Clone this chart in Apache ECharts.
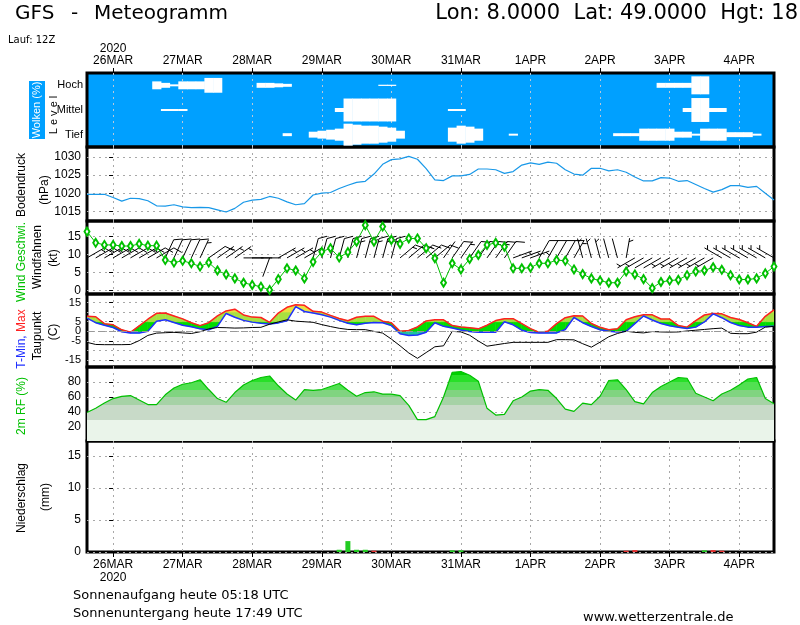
<!DOCTYPE html>
<html>
<head>
<meta charset="utf-8">
<script src="https://cdn.jsdelivr.net/npm/echarts@6.0.0/dist/echarts.min.js"></script>
<style>
html,body{margin:0;padding:0;background:#ffffff;}
#chart{width:800px;height:625px;}
</style>
</head>
<body>
<div id="chart"></div>
<script>
// ---------------- data ----------------
const hours = [-9,-6,-3,0,3,6,9,12,15,18,21,24,27,30,33,36,39,42,45,48,51,54,57,60,63,66,69,72,75,78,
  81,84,87,90,93,96,99,102,105,108,111,114,117,120,123,126,129,132,135,138,141,144,147,150,153,156,159,162,165,168,
  171,174,177,180,183,186,189,192,195,198,201,204,207,210,213,216,219,222,225,228];
const dayTicks = [0,24,48,72,96,120,144,168,192,216];
const dayLabels = ['26MAR','27MAR','28MAR','29MAR','30MAR','31MAR','1APR','2APR','3APR','4APR'];
const yearLabel = '2020';
const cloudLevels = ['Tief','Mittel','Hoch'];

const cloudHigh = [0,0,0,0,0,0,0,0,32,20, 8,32,32,32,60,60,0,0,0,0, 20,20,16,12,0,0,0,0,0,0, 0,0,0,0,5,5,0,0,0,0,
  0,0,0,0,0,0,0,0,0,0, 0,0,0,0,0,0,0,0,0,0, 0,0,0,0,0,0,20,20,20,20, 73,73,0,0,0,0,0,0,0,0];
const cloudMid = [0,0,0,0,0,0,0,0,0,8, 8,8,0,0,0,0,0,0,0,0, 0,0,0,0,0,0,0,0,0,16, 93,93,93,93,93,93,0,0,0,0,
  0,0,8,8,0,0,0,0,0,0, 0,0,0,0,0,0,0,0,0,0, 0,0,0,0,0,0,0,0,0,16, 97,97,16,16,0,0,0,0,0,0];
const cloudLow = [0,0,0,0,0,0,0,0,0,0, 0,0,0,0,0,0,0,0,0,0, 0,0,0,12,0,0,24,32,40,49, 89,81,73,73,65,57,32,0,0,0,
  0,0,57,73,65,49,0,0,0,8, 0,0,0,0,0,0,0,0,0,0, 0,12,12,12,49,49,49,49,24,24, 8,49,49,49,20,20,20,8,0,0];

const pressure = [1019.7,1019.7,1019.7,1018.8,1017.8,1018.6,1018.5,1017.9,1016.5,1016.4,
  1016.8,1016.2,1016.0,1016.1,1016.0,1015.4,1014.8,1015.8,1017.5,1018.1,
  1018.3,1019.1,1018.6,1017.6,1016.8,1017.1,1019.5,1020.0,1020.2,1021.3,
  1022.2,1023.0,1023.3,1025.3,1028.0,1029.3,1029.5,1030.2,1029.4,1026.8,
  1023.7,1023.5,1024.8,1024.8,1025.2,1026.7,1026.7,1026.5,1025.5,1026.0,
  1027.8,1028.4,1028.0,1028.6,1028.3,1026.5,1025.3,1025.0,1026.9,1026.9,
  1026.2,1026.5,1025.8,1024.5,1023.4,1023.4,1024.3,1024.2,1023.3,1023.5,
  1022.4,1021.3,1020.3,1021.0,1022.1,1022.1,1021.6,1021.9,1020.0,1018.1];

const windSpeed = [16.3,13.2,12.6,12.6,12.3,12.3,12.9,12.4,12.4,8.4,
  7.7,8.2,7.5,6.6,7.7,5.5,4.4,3.3,2.1,1.5,
  1.0,0.1,3.1,6.1,5.5,3.3,7.9,10.7,11.7,9.1,
  10.6,13.5,18.1,13.5,17.7,14.0,12.9,14.4,14.4,11.7,
  8.9,2.1,7.5,5.8,8.7,9.8,12.6,13.2,12.1,6.1,
  6.1,6.3,7.5,7.5,8.4,8.2,5.8,4.5,3.3,2.7,
  2.1,2.1,5.2,4.4,3.1,0.6,2.3,2.7,2.9,4.2,
  5.2,5.5,6.4,5.7,4.2,3.0,3.0,3.3,4.7,6.6];
const windDir = [60,60,60,60,60,60,60,60,60,25, 25,25,25,25,55,55,55,55,90,90,
  90,200,60,60,60,60,15,15,15,15, 15,15,15,15,15,15,50,50,50,50,
  50,35,35,35,35,35,35,35,35,70, 70,70,30,30,30,30,30,345,345,345,
  345,345,10,240,240,240,240,240,240,240, 240,240,240,300,300,300,300,300,300,300];

const tMax = [7.8,7.6,4.0,3.4,0.8,-0.5,2.9,6.3,9.4,9.5,
  8.0,6.5,4.5,3.0,4.5,8.0,10.6,11.5,8.5,7.4,
  7.2,4.7,9.5,12.5,13.8,13.5,10.4,10.0,8.3,6.7,
  5.5,7.3,7.8,7.8,5.3,4.5,0.0,0.5,2.3,5.4,
  6.0,6.0,3.0,2.3,1.9,1.3,3.2,5.6,6.6,6.6,
  4.0,1.4,-0.5,0.1,4.0,7.1,8.1,8.0,4.1,2.1,
  0.85,1.4,6.0,7.6,8.6,8.6,6.4,6.4,3.0,2.2,
  5.6,8.5,9.3,9.1,7.2,6.2,4.5,2.6,7.8,11.2];
const tMin = [6.9,4.5,3.2,2.0,-0.2,-0.9,-0.9,0.1,5.3,6.0,
  4.6,3.2,2.4,1.3,0.85,2.6,9.3,7.3,5.7,4.8,
  4.2,3.8,4.4,5.5,12.8,10.3,9.5,8.6,7.4,5.7,
  4.2,3.4,4.2,4.6,4.5,3.0,-1.2,-2.1,-1.9,-0.5,
  4.5,2.6,1.8,0.7,-0.1,-0.5,-0.5,-0.5,5.0,3.4,
  0.6,-0.6,-0.9,-0.9,-0.8,1.0,7.2,4.5,2.5,0.8,
  0.1,-0.3,0.0,4.0,8.0,5.9,4.1,2.9,2.1,1.5,
  2.2,4.9,9.1,7.1,4.6,3.0,2.2,2.1,2.5,2.6];
const dewPoint = [-5.7,-6.8,-6.9,-6.9,-6.9,-6.8,-4.8,-2.1,-0.9,-0.7,
  -0.5,-0.8,-1.1,-0.2,1.3,2.0,1.9,1.7,1.8,2.0,
  2.1,3.7,4.9,6.0,5.3,5.0,4.7,3.5,2.5,1.6,
  1.0,0.9,0.9,0.0,-0.9,-4.0,-7.5,-11.2,-14.0,-11.0,
  -8.0,-7.5,0.0,-0.3,-2.0,-5.0,-7.7,-7.0,-6.3,-5.7,
  -5.7,-5.7,-5.7,-5.7,-4.3,-4.3,-4.4,-6.4,-8.2,-5.6,
  -2.8,-1.1,0.1,-0.5,-0.8,-0.1,-0.3,-0.4,-0.3,0.2,
  0.6,1.0,1.4,1.7,-1.0,-1.2,-1.2,-0.4,2.2,2.6];

const relHum = [39.5,45,52,58,61,62,56,50,50,63,
  72,77,79,83,70,58,53,66,76,82,
  86,88,75,64,56,70,69,70,74,78,
  69,61,66,67,64,64,62,49,30,30,
  34,60,93,94,89,81,45,36,37,55,
  60,68,70,69,58,44,41,52,50,61,
  82,83,70,54,51,66,74,80,86,85,
  65,60,55,64,69,76,84,86,58,51];

const precipRain = [0,0,0,0,0,0,0,0,0,0, 0,0,0,0,0,0,0,0,0,0, 0,0,0,0,0,0,0,0,0,0.35, 1.7,0.35,0.35,0,0,0,0,0,0,0,
  0,0,0.25,0.25,0,0,0,0,0,0, 0,0,0,0,0,0,0,0,0,0, 0,0,0,0,0,0,0,0,0,0, 0,0.25,0,0,0,0,0,0,0,0];
const precipSnow = [0,0,0,0,0,0,0,0,0,0, 0,0,0,0,0,0,0,0,0,0, 0,0,0,0,0,0,0,0,0,0, 0,0,0,0.2,0,0,0,0,0,0,
  0,0,0,0,0,0,0,0,0,0, 0,0,0,0,0,0,0,0,0,0, 0,0,0.2,0.3,0,0,0,0,0,0, 0,0,0.3,0.2,0,0,0,0,0,0];

// ---------------- layout / style ----------------
const FONT = 'DejaVu Sans';
const SFONT = 'Liberation Sans';
const xMin = hours[0], xMax = hours[hours.length - 1];
const GREEN = '#00C000', BLUE = '#2030FF', RED = '#FF2020';
const CLOUD_BG = '#00A0FF';
const tempBandStyle = [[-100, 0, '#20C0A0'], [0, 5, '#00DC00'], [5, 10, '#A8E040'], [10, 100, '#E8E040']];
const gridDefs = [
  {top: 73, height: 74},
  {top: 147, height: 74},
  {top: 221, height: 73},
  {top: 294, height: 73},
  {top: 367, height: 74},
  {top: 441, height: 111}
];
const grids = gridDefs.map((g, i) => Object.assign({
  left: 87, right: 26, show: true, borderColor: '#000', borderWidth: 3,
  backgroundColor: i === 0 ? CLOUD_BG : 'rgba(0,0,0,0)'
}, g));

const dashGray = {color: '#a8a8a8', type: [2, 4], width: 1};

function labelTop(v) {
  const i = dayTicks.indexOf(v);
  if (i < 0) return '';
  return i === 0 ? yearLabel + '\n' + dayLabels[i] : dayLabels[i];
}
function labelBottom(v) {
  const i = dayTicks.indexOf(v);
  if (i < 0) return '';
  return i === 0 ? dayLabels[i] + '\n' + yearLabel : dayLabels[i];
}

function mkX(idx) {
  return {
    type: 'value', gridIndex: idx, min: xMin, max: xMax,
    axisLine: {show: false},
    axisTick: {show: false, customValues: dayTicks},
    axisLabel: {show: false, customValues: dayTicks},
    splitLine: {show: true, lineStyle: idx === 0 ? {color: '#b8c8d8', type: [2, 4], width: 1} : dashGray}
  };
}
const xAxes = [0, 1, 2, 3, 4, 5].map(i => mkX(i));
xAxes[0].position = 'top';
xAxes[0].axisTick = {show: true, customValues: dayTicks, length: 5, inside: false, lineStyle: {color: '#000', width: 1}};
xAxes[0].axisLabel = {show: true, customValues: dayTicks, formatter: labelTop, margin: 6,
  fontFamily: SFONT, fontSize: 12, color: '#000', lineHeight: 12};
xAxes[5].position = 'bottom';
xAxes[5].axisTick = {show: true, customValues: dayTicks, length: 5, inside: false, lineStyle: {color: '#000', width: 1}};
xAxes[5].axisLabel = {show: true, customValues: dayTicks, formatter: labelBottom, margin: 6,
  fontFamily: SFONT, fontSize: 12, color: '#000', lineHeight: 13};

function mkY(idx, min, max, ticks) {
  return {
    type: 'value', gridIndex: idx, min: min, max: max,
    axisLine: {show: false},
    axisTick: {show: true, length: 4, customValues: ticks, lineStyle: {color: '#000'}},
    axisLabel: {customValues: ticks, color: '#000', fontFamily: SFONT, fontSize: 12, margin: 6,
      hideOverlap: false, showMinLabel: true, showMaxLabel: true, formatter: v => String(v)},
    splitLine: {show: true, lineStyle: dashGray}
  };
}
const yAxes = [
  {type: 'category', gridIndex: 0, data: cloudLevels, axisLine: {show: false}, axisTick: {show: false},
    axisLabel: {color: '#000', fontFamily: SFONT, fontSize: 11, margin: 4}, splitLine: {show: false}},
  mkY(1, 1012.3, 1032.8, [1015, 1020, 1025, 1030]),
  mkY(2, -1.03, 19.25, [0, 5, 10, 15]),
  mkY(3, -18.5, 19.4, [-15, -10, -5, 0, 5, 10, 15]),
  mkY(4, 1.5, 100, [20, 40, 60, 80]),
  mkY(5, 0, 17.3, [0, 5, 10, 15])
];
yAxes[3].axisLabel.fontSize = 11;
yAxes[3].axisLabel.lineHeight = 8;

function pairs(arr) { return hours.map((h, i) => [h, arr[i]]); }

function renderCloud(params, api) {
  const c = api.value(2);
  if (!(c > 0)) return null;
  const p = api.coord([api.value(0), api.value(1)]);
  const w = api.size([3, 0])[0];
  const band = api.size([0, 1])[1];
  const h = band * c / 100;
  return {type: 'rect', shape: {x: p[0] - w / 2, y: p[1] - h / 2, width: w + 0.5, height: h},
    style: {fill: '#ffffff'}};
}
function cloudSeries(arr, lvl) {
  return {type: 'custom', xAxisIndex: 0, yAxisIndex: 0, clip: true, silent: true,
    renderItem: renderCloud, data: hours.map((h, i) => [h, lvl, arr[i]])};
}

const BARB_ANCHOR = 9, BARB_LEN = 20, FEATHER = 9, FEATHER_STEP = 3.5;
function renderBarb(params, api) {
  const spd = api.value(1), dir = api.value(2);
  const base = api.coord([api.value(0), BARB_ANCHOR]);
  const r = dir * Math.PI / 180;
  const ux = Math.sin(r), uy = -Math.cos(r);
  const px = Math.cos(r), py = Math.sin(r);
  const tip = [base[0] + ux * BARB_LEN, base[1] + uy * BARB_LEN];
  const st = {stroke: '#000', lineWidth: 1};
  const kids = [{type: 'line', shape: {x1: base[0], y1: base[1], x2: tip[0], y2: tip[1]}, style: st}];
  const n = Math.round(spd / 5);
  const full = Math.floor(n / 2), half = n % 2;
  let pos = 0;
  for (let k = 0; k < full; k++) {
    const sx = tip[0] - ux * pos, sy = tip[1] - uy * pos;
    kids.push({type: 'line', shape: {x1: sx, y1: sy,
      x2: sx + (px * 0.87 + ux * 0.5) * FEATHER, y2: sy + (py * 0.87 + uy * 0.5) * FEATHER}, style: st});
    pos += FEATHER_STEP;
  }
  if (half) {
    if (full === 0) pos = FEATHER_STEP;
    const sx = tip[0] - ux * pos, sy = tip[1] - uy * pos;
    kids.push({type: 'line', shape: {x1: sx, y1: sy,
      x2: sx + (px * 0.87 + ux * 0.5) * FEATHER / 2, y2: sy + (py * 0.87 + uy * 0.5) * FEATHER / 2}, style: st});
  }
  return {type: 'group', children: kids};
}

// clip polygon (in data coords) against a horizontal level
function clipAt(poly, level, keepAbove) {
  const out = [];
  for (let i = 0; i < poly.length; i++) {
    const a = poly[i], b = poly[(i + 1) % poly.length];
    const ina = keepAbove ? a[1] >= level : a[1] <= level;
    const inb = keepAbove ? b[1] >= level : b[1] <= level;
    if (ina) out.push(a);
    if (ina !== inb) {
      const f = (level - a[1]) / (b[1] - a[1]);
      out.push([a[0] + f * (b[0] - a[0]), level]);
    }
  }
  return out;
}
function renderTempFill(params, api) {
  const t0 = api.value(0), t1 = api.value(1);
  const quad = [[t0, api.value(2)], [t1, api.value(3)], [t1, api.value(5)], [t0, api.value(4)]];
  const kids = [];
  tempBandStyle.forEach(b => {
    let poly = clipAt(quad, b[0], true);
    if (poly.length >= 3) poly = clipAt(poly, b[1], false);
    if (poly.length >= 3) {
      kids.push({type: 'polygon', shape: {points: poly.map(p => api.coord(p))},
        style: {fill: b[2], stroke: b[2], lineWidth: 0.6}});
    }
  });
  return {type: 'group', children: kids};
}

function vText(x, y, text, color, size, font) {
  return {type: 'text', x: x, y: y, rotation: Math.PI / 2, silent: true,
    style: {text: text, fill: color, font: size + 'px "' + (font || SFONT) + '"', align: 'center', verticalAlign: 'middle'}};
}
function hText(x, y, text, size, align, font) {
  return {type: 'text', x: x, y: y, silent: true,
    style: {text: text, fill: '#000', font: size + 'px "' + (font || FONT) + '"', align: align || 'left', verticalAlign: 'middle'}};
}

const series = [
  cloudSeries(cloudHigh, 2),
  cloudSeries(cloudMid, 1),
  cloudSeries(cloudLow, 0),
  {type: 'line', xAxisIndex: 1, yAxisIndex: 1, data: pairs(pressure), symbol: 'none',
    lineStyle: {color: '#1898E8', width: 1.2}},
  {type: 'custom', xAxisIndex: 2, yAxisIndex: 2, clip: true, silent: true, renderItem: renderBarb,
    data: hours.map((h, i) => [h, windSpeed[i], windDir[i]])},
  {type: 'line', xAxisIndex: 2, yAxisIndex: 2, data: pairs(windSpeed), symbol: 'emptyDiamond', symbolSize: [5, 8],
    lineStyle: {color: GREEN, width: 1}, itemStyle: {color: GREEN, borderWidth: 1}, z: 4},
  {type: 'custom', xAxisIndex: 3, yAxisIndex: 3, clip: true, silent: true, renderItem: renderTempFill,
    data: hours.slice(0, -1).map((h, i) => [h, hours[i + 1], tMin[i], tMin[i + 1], tMax[i], tMax[i + 1]])},
  {type: 'line', xAxisIndex: 3, yAxisIndex: 3, data: pairs(tMax), symbol: 'none', lineStyle: {color: RED, width: 1.5}, z: 3},
  {type: 'line', xAxisIndex: 3, yAxisIndex: 3, data: pairs(tMin), symbol: 'none', lineStyle: {color: BLUE, width: 1.5}, z: 3},
  {type: 'line', xAxisIndex: 3, yAxisIndex: 3, data: pairs(dewPoint), symbol: 'none', lineStyle: {color: '#000', width: 1},
    markLine: {silent: true, symbol: 'none', label: {show: false}, data: [{yAxis: 0}],
      lineStyle: {color: '#999', type: [7, 4], width: 1}}, z: 3},
  {type: 'line', xAxisIndex: 4, yAxisIndex: 4, data: pairs(relHum), symbol: 'none', lineStyle: {width: 0},
    areaStyle: {opacity: 1}, silent: true},
  {type: 'line', xAxisIndex: 4, yAxisIndex: 4, data: pairs(relHum), symbol: 'none', lineStyle: {color: GREEN, width: 1.2}},
  {type: 'bar', xAxisIndex: 5, yAxisIndex: 5, data: pairs(precipRain), barWidth: 5, barGap: '-100%',
    itemStyle: {color: '#22CC22'}},
  {type: 'bar', xAxisIndex: 5, yAxisIndex: 5, data: pairs(precipSnow), barWidth: 5, barGap: '-100%',
    itemStyle: {color: '#E83030'}}
];

const option = {
  animation: false,
  backgroundColor: '#ffffff',
  grid: grids,
  xAxis: xAxes,
  yAxis: yAxes,
  visualMap: [
    {type: 'piecewise', show: false, seriesIndex: 10, dimension: 1,
      pieces: [{lt: 30, color: '#EAF4EA'}, {gte: 30, lt: 50, color: '#C8DAC8'}, {gte: 50, lt: 60, color: '#A6D2A6'},
        {gte: 60, lt: 70, color: '#80D480'}, {gte: 70, lt: 80, color: '#52E052'}, {gte: 80, lt: 90, color: '#28E028'}, {gte: 90, color: '#00D000'}]}
  ],
  series: series,
  graphic: [
    hText(15, 14, 'GFS', 20),
    hText(71, 14, '-', 20),
    hText(94, 14, 'Meteogramm', 20),
    hText(798, 14, 'Lon: 8.0000  Lat: 49.0000  Hgt: 18', 21, 'right'),
    hText(8, 40, 'Lauf: 12Z', 10),
    {type: 'rect', x: 29, y: 81, shape: {x: 0, y: 0, width: 16, height: 58}, style: {fill: CLOUD_BG}, silent: true},
    vText(37, 110, 'Wolken (%)', '#ffffff', 11),
    vText(54, 115, 'L e v e l', '#000', 11),
    vText(22, 185, 'Bodendruck', '#000', 12),
    vText(45, 190, '(hPa)', '#000', 12),
    vText(22, 262, 'Wind Geschwi.', GREEN, 12),
    vText(38, 257, 'Windfahnen', '#000', 12),
    vText(54, 258, '(kt)', '#000', 12),
    {type: 'text', x: 22, y: 339, rotation: Math.PI / 2, silent: true,
      style: {text: '{b|T-Min,} {r|Max}', font: '12px "' + SFONT + '"', align: 'center', verticalAlign: 'middle',
        rich: {b: {fill: BLUE, font: '12px "' + SFONT + '"'}, r: {fill: RED, font: '12px "' + SFONT + '"'}}}},
    vText(38, 336, 'Taupunkt', '#000', 12),
    vText(54, 332, '(C)', '#000', 12),
    vText(22, 406, '2m RF (%)', GREEN, 12),
    vText(22, 498, 'Niederschlag', '#000', 12),
    vText(46, 497, '(mm)', '#000', 12),
    hText(73, 596, 'Sonnenaufgang heute 05:18 UTC', 13),
    hText(73, 614, 'Sonnenuntergang heute 17:49 UTC', 13),
    hText(583, 618, 'www.wetterzentrale.de', 13)
  ]
};

const chart = echarts.init(document.getElementById('chart'), null, {renderer: 'canvas', width: 800, height: 625});
chart.setOption(option);
</script>
</body>
</html>
